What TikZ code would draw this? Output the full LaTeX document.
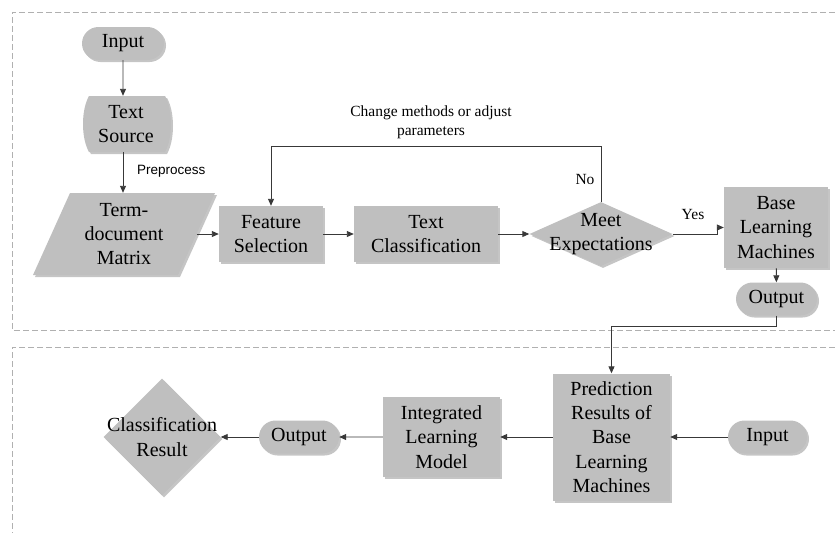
\documentclass[tikz,border=0pt]{standalone}
\usepackage{fontspec}
\setmainfont{Liberation Serif}
\newfontfamily\prepfont{Liberation Sans}
\usetikzlibrary{shapes.geometric,shapes.misc,shadows,arrows.meta}
\definecolor{boxfill}{HTML}{BFBFBF}
\definecolor{linec}{HTML}{383838}
\definecolor{dashc}{HTML}{B0B0B0}
\begin{document}
\begin{tikzpicture}[x=1pt,y=-1pt,
  shad/.style={drop shadow={shadow xshift=2pt,shadow yshift=-2pt,fill=black!45,opacity=0.5}},
  nfont/.style={font=\rmfamily\fontsize{20}{24.3}\selectfont},
  base/.style={fill=boxfill,draw=none,shad,align=center,nfont,inner sep=0pt},
  proc/.style={base,rectangle},
  pill/.style={base,rounded rectangle,minimum height=33pt},
  dia/.style={base,diamond},
  txt/.style={align=center,nfont,inner sep=0pt},
  conn/.style={draw=linec,line width=0.9pt,-{Triangle[length=7pt,width=6pt]}},
  lbl/.style={font=\rmfamily\fontsize{15.5}{19}\selectfont,align=center,inner sep=0pt},
  region/.style={draw=dashc,dash pattern=on 6pt off 3pt,line width=0.9pt}
]
\useasboundingbox (0,0) rectangle (835,533);
% dashed regions
\draw[region] (835,12) -- (12,12) -- (12,330) -- (835,330);
\draw[region] (835,347) -- (12,347) -- (12,533);

% top stage
\node[pill,minimum width=82pt] (in1) at (123,43.5) {Input};
\path[fill=boxfill,shad] (89,96) -- (165,96) .. controls (173,110) and (173,138) .. (165,152) -- (89,152) .. controls (81,138) and (81,110) .. (89,96) -- cycle;
\node[txt,minimum width=82pt,minimum height=56pt] (ts) at (126,124) {Text\\Source};
\path[fill=boxfill,shad] (70,193) -- (215,193) -- (178,275) -- (33,275) -- cycle;
\node[txt,minimum width=145pt,minimum height=82pt] (tdm) at (124,234) {Term-\\document\\Matrix};
\node[proc,minimum width=104pt,minimum height=56pt] (fs) at (271,234) {Feature\\Selection};
\node[proc,minimum width=144pt,minimum height=56pt] (tc) at (426,234) {Text\\Classification};
\node[dia,minimum width=143pt,minimum height=64pt] (me) at (601,234) {};
\node[txt] (met) at (me) {Meet\\Expectations};
\node[proc,minimum width=104pt,minimum height=81pt] (blm) at (776,227.5) {Base\\Learning\\Machines};
\node[pill,minimum width=81pt] (out1) at (776.5,299) {Output};

% bottom stage
\node[proc,minimum width=117pt,minimum height=127pt] (pr) at (611.5,437) {Prediction\\Results of\\Base\\Learning\\Machines};
\node[pill,minimum width=79pt] (in2) at (767.5,437) {Input};
\node[proc,minimum width=117pt,minimum height=80pt] (ilm) at (441.5,437) {Integrated\\Learning\\Model};
\node[pill,minimum width=80pt] (out2) at (299,437) {Output};
\node[dia,minimum width=117pt,minimum height=117pt] (cr) at (162,437) {};
\node[txt] (crt) at (cr) {Classification\\Result};

% labels
\node[font=\prepfont\fontsize{13.5}{16}\selectfont,anchor=west,inner sep=0pt] (pp) at (137,171) {Preprocess};
\node[lbl] (chg) at (431,122) {Change methods or adjust\\parameters};
\node[lbl] (no) at (585,179) {No};
\node[lbl] (yes) at (693,214) {Yes};

% connectors
\draw[conn] (in1) -- (in1 |- ts.north);
\draw[conn] (in1 |- ts.south) -- (in1 |- tdm.north);
\draw[conn] (tdm.east) -- (fs.west);
\draw[conn] (fs) -- (tc);
\draw[conn] (tc) -- (me);
\draw[conn] (me.north) -- ++(0,-55) -| (fs.north);
\draw[conn] (me.east) -- ++(45,0) |- (blm.west);
\draw[conn] (blm) -- (out1);
\draw[conn] (out1.south) -- ++(0,11) -| (pr.north);
\draw[conn] (in2) -- (pr);
\draw[conn] (pr) -- (ilm);
\draw[conn] (ilm) -- (out2);
\draw[conn] (out2) -- (cr);
\end{tikzpicture}
\end{document}
